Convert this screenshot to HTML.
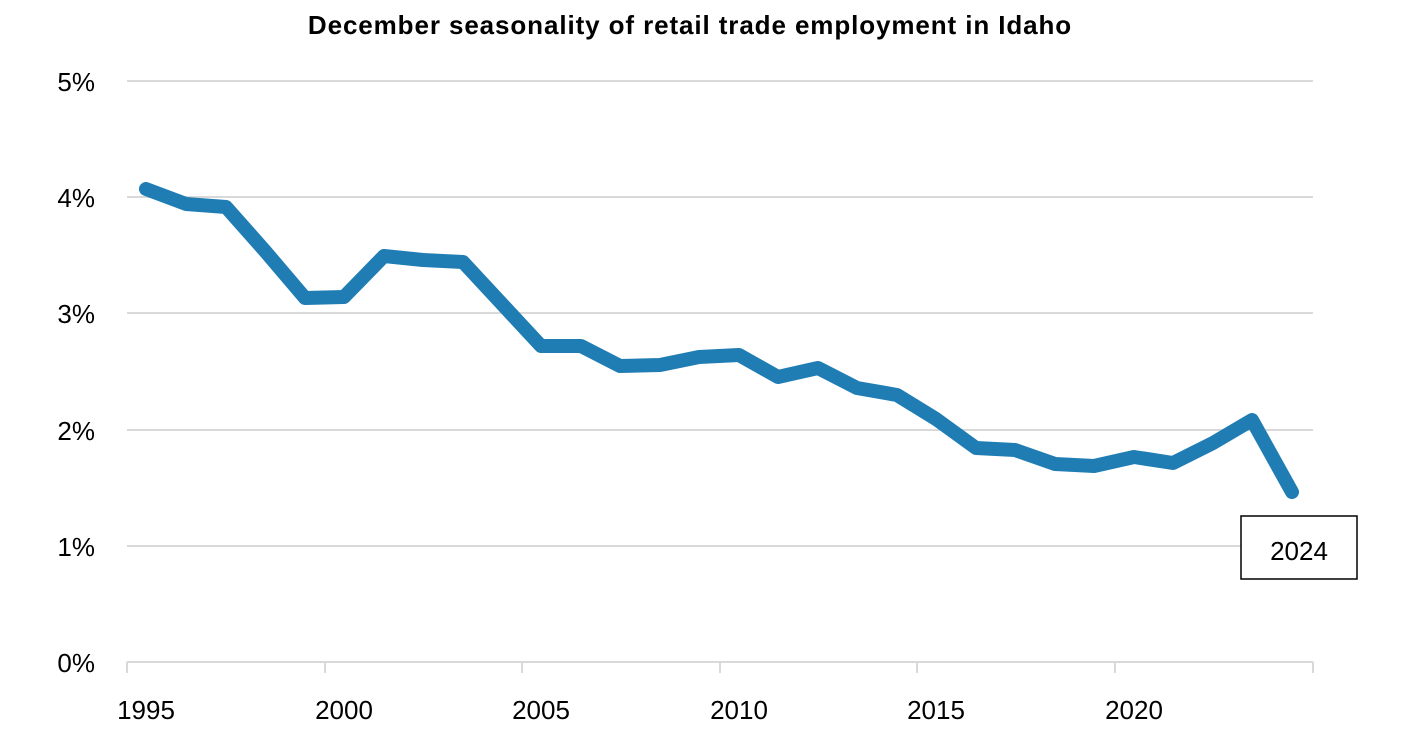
<!DOCTYPE html>
<html><head><meta charset="utf-8"><style>
html,body{margin:0;padding:0;background:#fff;}
svg text{font-family:"Liberation Sans",sans-serif;fill:#000;}
</style></head><body>
<svg width="1413" height="742" xmlns="http://www.w3.org/2000/svg">
<text x="690" y="34" text-anchor="middle" font-size="26" font-weight="bold" letter-spacing="0.9">December seasonality of retail trade employment in Idaho</text>
<g stroke="#d9d9d9" stroke-width="2">
<line x1="127" y1="81" x2="1313" y2="81"/>
<line x1="127" y1="197" x2="1313" y2="197"/>
<line x1="127" y1="313" x2="1313" y2="313"/>
<line x1="127" y1="430" x2="1313" y2="430"/>
<line x1="127" y1="546" x2="1313" y2="546"/>
<line x1="127" y1="662" x2="1313" y2="662"/>
<line x1="127" y1="662" x2="127" y2="673"/>
<line x1="325" y1="662" x2="325" y2="673"/>
<line x1="522" y1="662" x2="522" y2="673"/>
<line x1="720" y1="662" x2="720" y2="673"/>
<line x1="917" y1="662" x2="917" y2="673"/>
<line x1="1115" y1="662" x2="1115" y2="673"/>
<line x1="1313" y1="662" x2="1313" y2="673"/>
</g>
<g font-size="26" text-anchor="end">
<text x="95" y="91">5%</text>
<text x="95" y="207">4%</text>
<text x="95" y="323">3%</text>
<text x="95" y="440">2%</text>
<text x="95" y="556">1%</text>
<text x="95" y="672">0%</text>
</g>
<g font-size="26" text-anchor="middle">
<text x="146" y="719">1995</text>
<text x="344" y="719">2000</text>
<text x="541" y="719">2005</text>
<text x="739" y="719">2010</text>
<text x="936" y="719">2015</text>
<text x="1134" y="719">2020</text>
</g>
<polyline fill="none" stroke="#1f7db4" stroke-width="14" stroke-linejoin="round" stroke-linecap="round"
points="146,189 186,204 226,207 265,251 305,298 344,297 384,256 423,260 463,262 502,304 541,346 581,346 620,366 660,365 699,357 739,355 778,377 818,368 857,388 897,395 936,419 976,448 1015,450 1055,464 1094,466 1134,457 1173,463 1213,443 1252,420 1292,492"/>
<rect x="1241" y="516" width="116" height="63" fill="#fff" stroke="#000" stroke-width="1.5"/>
<text x="1299" y="560" text-anchor="middle" font-size="26">2024</text>
</svg>
</body></html>
